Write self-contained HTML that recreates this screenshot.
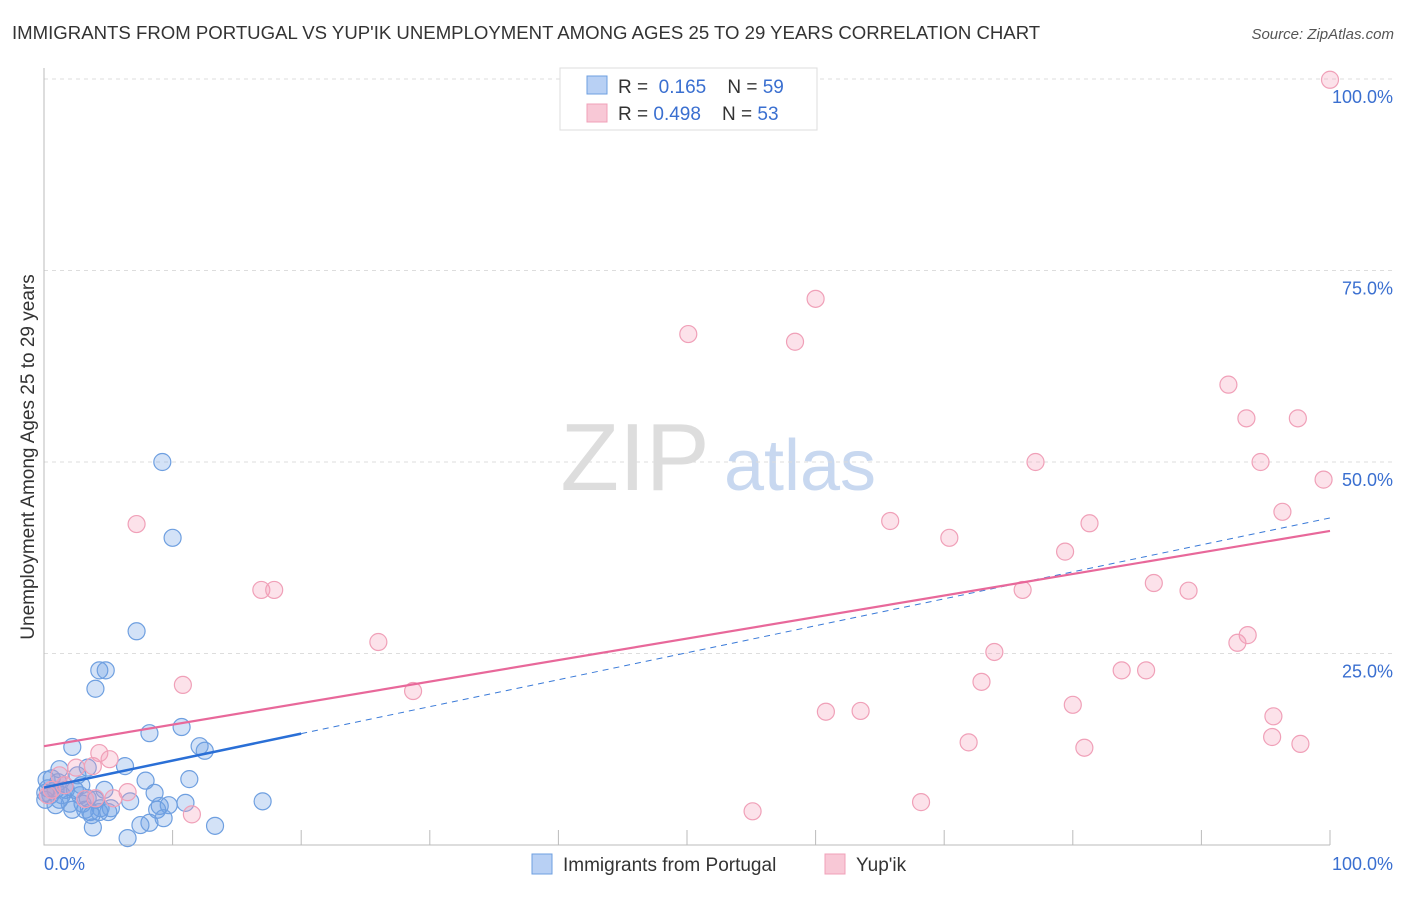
<!DOCTYPE html>
<html><head><meta charset="utf-8"><style>
body{margin:0;background:#fff;font-family:"Liberation Sans",sans-serif;}
svg text{font-family:"Liberation Sans",sans-serif;}
</style></head><body>
<svg id="chart" width="1406" height="892" xmlns="http://www.w3.org/2000/svg">
<text x="12" y="39" font-size="18.6" fill="#333">IMMIGRANTS FROM PORTUGAL VS YUP'IK UNEMPLOYMENT AMONG AGES 25 TO 29 YEARS CORRELATION CHART</text>
<text x="1394" y="39" font-size="15" fill="#555" text-anchor="end" font-style="italic">Source: ZipAtlas.com</text>
<text transform="translate(34,457) rotate(-90)" font-size="19" fill="#333" text-anchor="middle">Unemployment Among Ages 25 to 29 years</text>
<g><text x="635" y="490" font-size="96" fill="#ddd" text-anchor="middle" font-family="Liberation Serif">ZIP</text><text x="800" y="490" font-size="72" fill="#c8d8f0" text-anchor="middle">atlas</text></g>
<g id="grid"></g><g id="axes"></g><g id="pts"></g><g id="lines"></g>
<g>
<rect x="560" y="68" width="257" height="62" fill="#fff" stroke="#ddd"/>
<rect x="587" y="76" width="20" height="18" fill="#b8d0f4" stroke="#6e9fe0"/>
<text x="618" y="93" font-size="19" fill="#333">R = <tspan fill="#3a6fd0">&#160;0.165</tspan>&#160;&#160;&#160;&#160;N = <tspan fill="#3a6fd0">59</tspan></text>
<rect x="587" y="104" width="20" height="18" fill="#f8c8d6" stroke="#f0a0b8"/>
<text x="618" y="120" font-size="19" fill="#333">R = <tspan fill="#3a6fd0">0.498</tspan>&#160;&#160;&#160;&#160;N = <tspan fill="#3a6fd0">53</tspan></text>
</g>
<g>
<rect x="532" y="854" width="20" height="20" fill="#b8d0f4" stroke="#6e9fe0"/>
<text x="563" y="871" font-size="19" fill="#333">Immigrants from Portugal</text>
<rect x="825" y="854" width="20" height="20" fill="#f8c8d6" stroke="#f0a0b8"/>
<text x="856" y="871" font-size="19" fill="#333">Yup'ik</text>
</g>
</svg>
<script>
const blueX=[9.2,10.0,7.2,4.3,4.8,4.0,8.2,10.7,2.2,12.1,12.5,6.3,3.4,1.2,7.9,11.3,4.7,8.6,17.0,6.7,9.0,9.7,11.0,8.8,4.4,5.2,3.6,3.0,2.0,3.8,8.2,7.5,9.3,13.3,6.5,0.9,0.5,1.6,2.4,2.8,4.0,3.2,1.2,0.6,1.1,2.6,1.7,0.1,0.3,4.3,3.7,5.0,2.2,3.4,1.4,0.9,0.1,2.9,0.2];
const blueY=[50.0,40.1,27.9,22.8,22.8,20.4,14.6,15.4,12.8,12.9,12.3,10.3,10.1,9.9,8.4,8.6,7.2,6.8,5.7,5.7,5.1,5.2,5.5,4.6,4.8,4.8,4.3,5.4,5.4,2.3,2.9,2.6,3.5,2.5,0.9,7.2,6.5,7.8,7.2,6.5,5.9,4.6,5.9,8.7,8.2,9.1,7.2,5.9,7.4,4.3,3.9,4.3,4.6,6.1,6.5,5.2,6.8,7.8,8.5];
const pinkX=[100,60.0,50.1,58.4,92.1,93.5,97.5,77.1,94.6,99.5,7.2,65.8,96.3,70.4,81.3,79.4,16.9,17.9,76.1,86.3,89.0,93.6,92.8,26.0,73.9,83.8,85.7,10.8,72.9,28.7,80.0,60.8,63.5,95.6,71.9,95.5,97.7,80.9,4.3,5.1,3.8,2.5,1.2,1.6,0.6,6.5,5.4,4.0,11.5,55.1,68.2,3.2,0.3];
const pinkY=[99.9,71.3,66.7,65.7,60.1,55.7,55.7,50.0,50.0,47.7,41.9,42.3,43.5,40.1,42.0,38.3,33.3,33.3,33.3,34.2,33.2,27.4,26.4,26.5,25.2,22.8,22.8,20.9,21.3,20.1,18.3,17.4,17.5,16.8,13.4,14.1,13.2,12.7,12.0,11.2,10.3,10.1,9.1,7.8,7.2,6.9,6.1,6.1,4.0,4.4,5.6,6.0,6.5];
const blueLine=[7.5,42.7];
const blueSolidEnd=20;
const pinkLine=[12.9,41.0];
const yTicks=[25,50,75,100];
const yTickLabels=["25.0%","50.0%","75.0%","100.0%"];
const xTicks=[0,10,20,30,40,50,60,70,80,90,100];

const NS="http://www.w3.org/2000/svg";
const sx=v=>44+v*12.86, sy=v=>845-v*7.66;
function mk(t,a,p){const e=document.createElementNS(NS,t);for(const k in a)e.setAttribute(k,a[k]);p.appendChild(e);return e;}
const grid=document.getElementById('grid'),axes=document.getElementById('axes'),pts=document.getElementById('pts'),lines=document.getElementById('lines');
yTicks.forEach((v,i)=>{
  const g=mk('line',{x1:44,x2:1394,y1:sy(v),y2:sy(v),stroke:'#ddd','stroke-dasharray':'4,4'},grid);
  
  
  const t=mk('text',{x:1393,y:sy(v)+24,'font-size':18,fill:'#3a6fd0','text-anchor':'end'},axes);
  t.textContent=yTickLabels[i];
  
  
});
const ax=mk('path',{d:'M44 68 V845 H1330',stroke:'#bbb',fill:'none'},axes);


xTicks.forEach(v=>{
  const l=mk('line',{x1:sx(v),x2:sx(v),y1:830,y2:845,stroke:'#bbb'},axes);
  
  
});
const x0=mk('text',{x:44,y:870,'font-size':18,fill:'#3a6fd0'},axes);x0.textContent='0.0%';


const x1=mk('text',{x:1393,y:870,'font-size':18,fill:'#3a6fd0','text-anchor':'end'},axes);x1.textContent='100.0%';


blueX.forEach((v,i)=>{
  const c=mk('circle',{cx:sx(v),cy:sy(blueY[i]),r:8.5,fill:'rgba(110,160,230,0.3)',stroke:'#6e9fe0','stroke-width':1.2},pts);
  
  
});
pinkX.forEach((v,i)=>{
  const c=mk('circle',{cx:sx(v),cy:sy(pinkY[i]),r:8.5,fill:'rgba(245,160,185,0.3)',stroke:'#f0a0b8','stroke-width':1.2},pts);
  
  
});
const bAt=x=>blueLine[0]+(blueLine[1]-blueLine[0])*x/100;
const bd=mk('line',{x1:sx(blueSolidEnd),y1:sy(bAt(blueSolidEnd)),x2:sx(100),y2:sy(blueLine[1]),stroke:'#3a7ad8','stroke-width':1,'stroke-dasharray':'6,5'},lines);


const pl=mk('line',{x1:sx(0),y1:sy(pinkLine[0]),x2:sx(100),y2:sy(pinkLine[1]),stroke:'#e8689a','stroke-width':2.2},lines);


const bl=mk('line',{x1:sx(0),y1:sy(blueLine[0]),x2:sx(blueSolidEnd),y2:sy(bAt(blueSolidEnd)),stroke:'#2a6fd6','stroke-width':2.5},lines);


</script>
</body></html>
